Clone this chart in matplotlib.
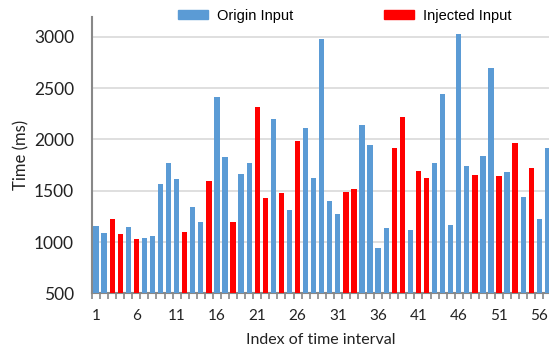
import matplotlib
matplotlib.use('Agg')
import matplotlib.pyplot as plt
from matplotlib.patches import Patch
import numpy as np

# time per interval (ms), and whether the input was injected
times = [1160, 1085, 1225, 1080, 1150, 1030, 1035, 1060, 1570, 1770,
         1610, 1100, 1340, 1200, 1595, 2410, 1830, 1195, 1665, 1770,
         2320, 1430, 2200, 1480, 1310, 1985, 2110, 1620, 2975, 1400,
         1275, 1490, 1515, 2140, 1945, 945, 1140, 1915, 2220, 1115,
         1690, 1625, 1770, 2445, 1170, 3025, 1745, 1650, 1840, 2700,
         1645, 1685, 1965, 1440, 1720, 1225, 1920]
injected = [0, 0, 1, 1, 0, 1, 0, 0, 0, 0,
            0, 1, 0, 0, 1, 0, 0, 1, 0, 0,
            1, 1, 0, 1, 0, 1, 0, 0, 0, 0,
            0, 1, 1, 0, 0, 0, 0, 1, 1, 0,
            1, 1, 0, 0, 0, 0, 0, 1, 0, 0,
            1, 0, 1, 0, 1, 0, 0]
xlabels = [1, 6, 11, 16, 21, 26, 31, 36, 41, 46, 51, 56]

blue = '#5B9BD5'
red = '#FF0000'

fig = plt.figure(figsize=(5.49, 3.48), dpi=100)
ax = fig.add_axes([0.1676, 0.157, 0.8324, 0.795])

idx = np.arange(1, len(times) + 1)
cols = [red if f else blue for f in injected]
ax.bar(idx, np.array(times) - 500, bottom=500, width=0.66, color=cols, zorder=3)

ax.set_xlim(0.5, 57.2)
ax.set_ylim(500, 3195)
ax.set_yticks(range(500, 3001, 500))
ax.set_xticks(xlabels)
ax.set_xticklabels([str(v) for v in xlabels], fontsize=11, color='#222222', family='Lato')
ax.set_xticks(np.arange(0.5, 57.5, 1), minor=True)
ax.tick_params(axis='x', which='major', length=0, pad=11)
ax.tick_params(axis='x', which='minor', length=4, width=1.2, color='#888888')
ax.tick_params(axis='y', length=0, pad=13, labelsize=12.5, labelcolor='#222222')
for t in ax.get_yticklabels():
    t.set_family('Lato')

ax.grid(axis='y', color='#d9d9d9', linewidth=1.2, zorder=0)
for s in ['top', 'right']:
    ax.spines[s].set_visible(False)
ax.spines['left'].set_color('#888888')
ax.spines['left'].set_linewidth(1.5)
ax.spines['bottom'].set_color('#888888')
ax.spines['bottom'].set_linewidth(1.5)

ax.set_ylabel('Time (ms)', fontsize=12, family='Lato', color='#222222', labelpad=3)
ax.set_xlabel('Index of time interval', fontsize=11.5, family='Lato', color='#222222', labelpad=7.5)

handles = [Patch(color=blue, label='Origin Input'), Patch(color=red, label='Injected Input')]
fig.legend(handles=handles, loc='center', bbox_to_anchor=(0.628, 0.955), ncol=2,
           frameon=False, prop={'family': 'Liberation Sans', 'size': 10.5},
           handlelength=2.1, handleheight=0.48, columnspacing=6.2, handletextpad=0.6,
           borderpad=0, borderaxespad=0)

fig.savefig('out.png', dpi=100)
